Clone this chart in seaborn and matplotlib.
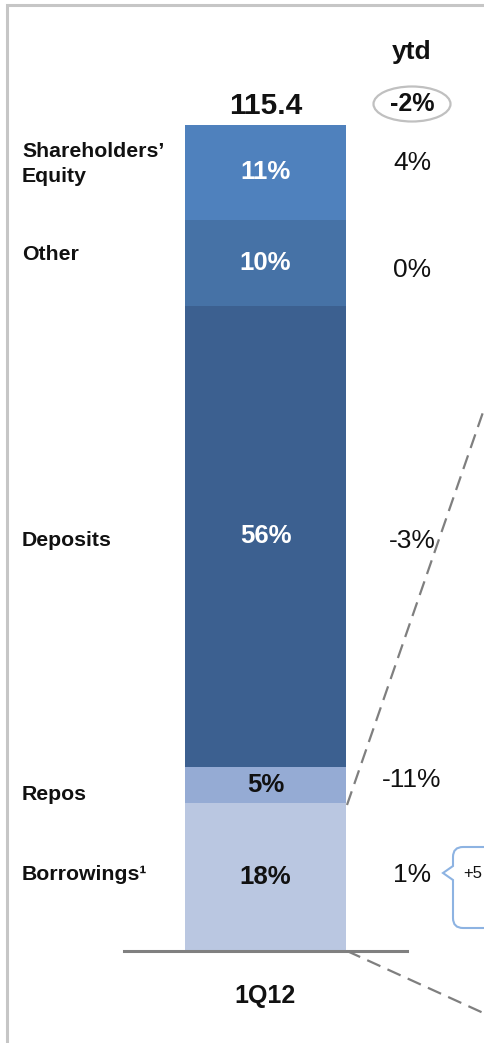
import numpy as np
import matplotlib.pyplot as plt
import seaborn as sns
from matplotlib.lines import Line2D
from matplotlib.patches import Ellipse, PathPatch
from matplotlib.path import Path

# funding mix, listed bottom to top of the stacked bar
segments = ["Borrowings¹", "Repos", "Deposits", "Other", "Shareholders’\nEquity"]
shares = [17.9, 4.4, 55.8, 10.4, 11.5]          # segment heights, % of total
share_labels = ["18%", "5%", "56%", "10%", "11%"]
ytd_change = ["1%", "-11%", "-3%", "0%", "4%"]
period = ["1Q12"]
total_label = "115.4"
ytd_total = "-2%"

colors = ["#bac7e1", "#95abd4", "#3c6090", "#4672a6", "#4f81bd"]
text_colors = ["#111111", "#111111", "white", "white", "white"]

# layout (figure pixels, measured from the top)
W, H = 484, 1043
left_label_y = [875, 795, 541, 255, 164]
ytd_y = [875, 780, 541, 270, 163]

sns.set_theme(style="white")
plt.rcParams["font.family"] = ["Liberation Sans", "DejaVu Sans"]

fig = plt.figure(figsize=(W / 100, H / 100), dpi=100)


def px(x, y):
    return x / W, 1 - y / H


# axes: x from 124 to 407 px, y from 951 (0) to 125 (100)
ax = fig.add_axes([124 / W, (H - 951) / H, 283 / W, 826 / H])

cum = np.cumsum(shares)
for i in reversed(range(len(shares))):
    sns.barplot(x=period, y=[cum[i]], color=colors[i], saturation=1,
                width=0.572, linewidth=0, ax=ax)

ax.set_xlim(-0.5, 0.5)
ax.set_ylim(0, 100)
ax.set_yticks([])
ax.set_xlabel("")
ax.set_ylabel("")
for s in ["top", "left", "right"]:
    ax.spines[s].set_visible(False)
ax.spines["bottom"].set_color("#808080")
ax.spines["bottom"].set_linewidth(2.2)
ax.tick_params(axis="x", length=0, pad=24, labelsize=18)
for t in ax.get_xticklabels():
    t.set_fontweight("bold")
    t.set_color("#111111")

# labels inside the bar
bottoms = cum - np.array(shares)
for i in range(len(shares)):
    ax.text(0, bottoms[i] + shares[i] / 2, share_labels[i], ha="center", va="center",
            fontsize=18.5, fontweight="bold", color=text_colors[i])

# segment names on the left
for i in range(len(segments)):
    fig.text(*px(22, left_label_y[i]), segments[i], ha="left", va="center",
             fontsize=15.3, fontweight="bold", color="#111111", linespacing=1.45)

# ytd column
for i in range(len(ytd_change)):
    fig.text(*px(412, ytd_y[i]), ytd_change[i], ha="center", va="center",
             fontsize=19, color="#111111")

fig.text(*px(266, 106), total_label, ha="center", va="center",
         fontsize=21.5, fontweight="bold", color="#111111")
fig.text(*px(412, 52), "ytd", ha="center", va="center",
         fontsize=19, fontweight="bold", color="#111111")
fig.text(*px(412, 104), ytd_total, ha="center", va="center",
         fontsize=18, fontweight="bold", color="#111111")
fig.patches.append(Ellipse(px(412, 104), 77 / W, 35 / H, transform=fig.transFigure,
                           fill=False, edgecolor="#c0c0c0", linewidth=1.6))

# zoom connector lines
for (x0, y0), (x1, y1) in [((347, 805), (490, 392)), ((347, 951), (490, 1016))]:
    a, b = px(x0, y0), px(x1, y1)
    fig.lines.append(Line2D([a[0], b[0]], [a[1], b[1]], transform=fig.transFigure,
                            color="#7f7f7f", linewidth=1.6, linestyle=(0, (6.5, 3.5))))

# brace next to the borrowings change
pts = [(495, 847), (463, 847), (453, 847), (453, 857), (453, 866), (443, 873),
       (453, 880), (453, 918), (453, 928), (463, 928), (495, 928)]
codes = [Path.MOVETO, Path.LINETO, Path.CURVE3, Path.CURVE3, Path.LINETO, Path.LINETO,
         Path.LINETO, Path.LINETO, Path.CURVE3, Path.CURVE3, Path.LINETO]
brace = Path([px(x, y) for x, y in pts], codes)
fig.patches.append(PathPatch(brace, transform=fig.transFigure, fill=False,
                             edgecolor="#8db3e2", linewidth=1.5))
fig.text(*px(463, 874), "+5", ha="left", va="center", fontsize=12, color="#111111")

# slide frame
a, b, c = px(6.8, H + 5), px(6.8, 4.7), px(W + 5, 4.7)
fig.lines.append(Line2D([a[0], b[0], c[0]], [a[1], b[1], c[1]], transform=fig.transFigure,
                        color="#c6c6c6", linewidth=2.2, solid_joinstyle="miter"))

fig.savefig("out.png", dpi=100)
